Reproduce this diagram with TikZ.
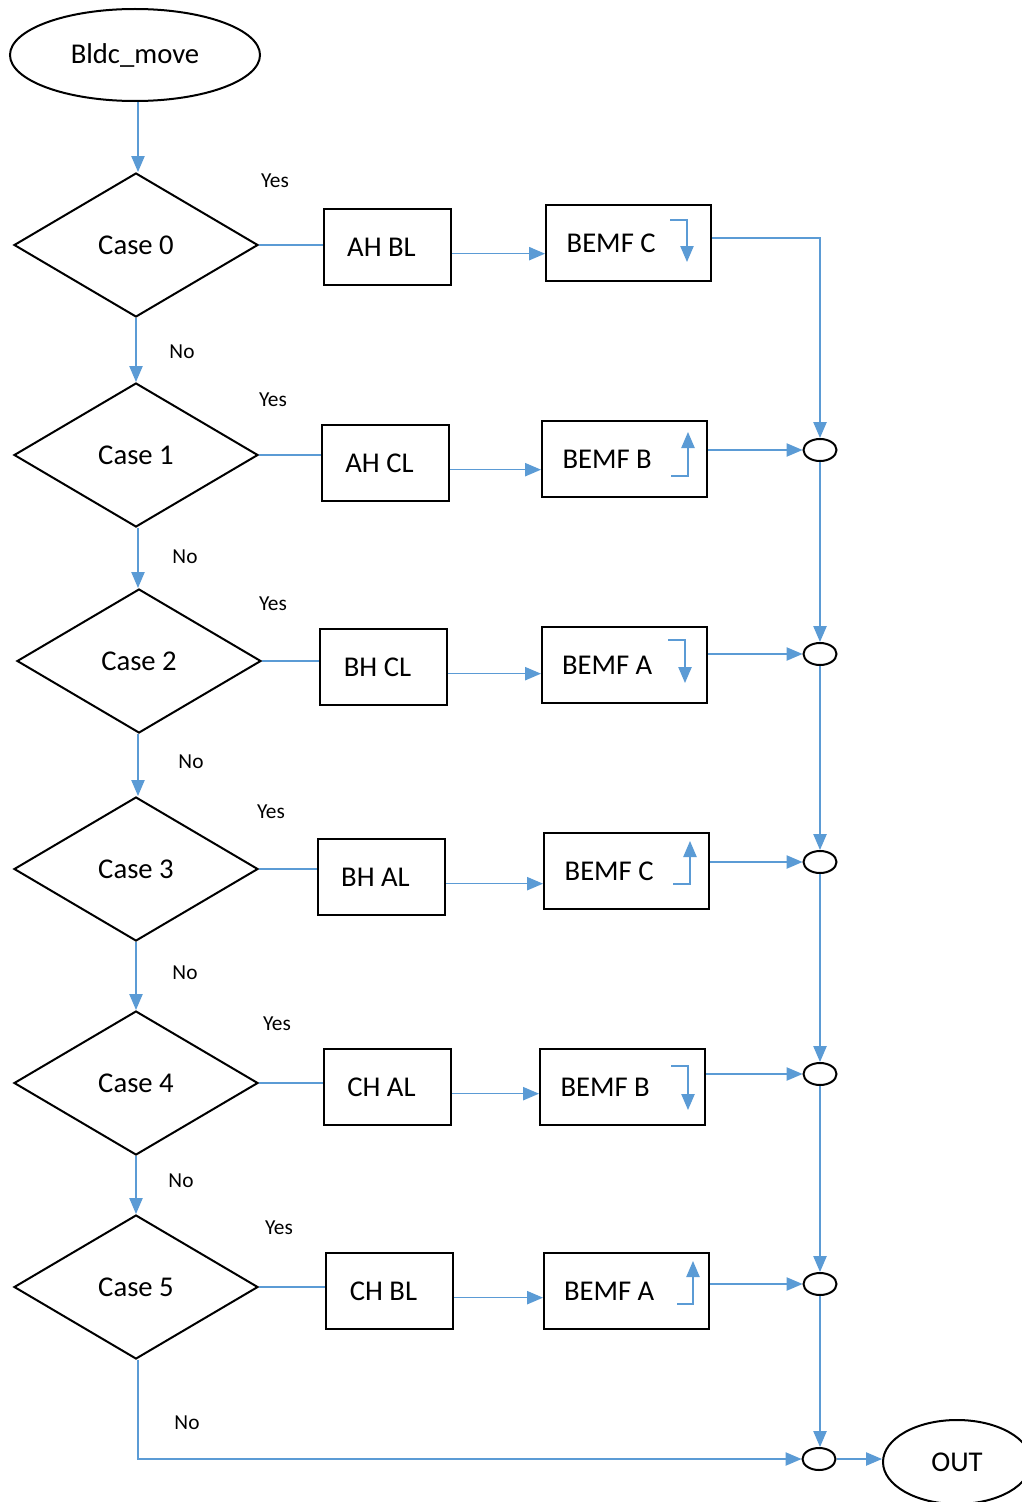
\documentclass[tikz,border=0pt]{standalone}
\usepackage{fontspec}
\setmainfont{Carlito}
\usetikzlibrary{shapes.geometric,arrows.meta}
\definecolor{lineblue}{HTML}{5B9BD5}
\begin{document}
\begin{tikzpicture}[x=0.75pt,y=-0.75pt,
 every node/.style={font=\fontsize{21.5}{24}\selectfont, inner sep=0pt},
 dia/.style={diamond, draw, line width=1.5pt, minimum width=183pt, minimum height=108pt},
 actbox/.style={rectangle, draw, line width=1.5pt, minimum width=95.25pt, minimum height=57pt},
 bemf/.style={rectangle, draw, line width=1.5pt, minimum width=123.75pt, minimum height=57pt},
 jn/.style={ellipse, draw, line width=1.5pt, minimum width=24.75pt, minimum height=16.5pt},
 term/.style={ellipse, draw, line width=1.5pt},
 lbl/.style={font=\fontsize{16}{18}\selectfont},
 conn/.style={draw=lineblue, line width=1pt},
 arr/.style={conn, -{Triangle[length=12pt,width=10pt]}},
]
\useasboundingbox (0,0) rectangle (1021,1502);

% terminals
\node[term, minimum width=187.5pt, minimum height=69pt] (start) at (135,55) {Bldc\_move};
\node[term, minimum width=111pt, minimum height=63pt] (out) at (957,1462) {OUT};

% decisions
\node[dia] (d0) at (136,245) {Case 0};
\node[dia] (d1) at (136,455) {Case 1};
\node[dia] (d2) at (139,661) {Case 2};
\node[dia] (d3) at (136,869) {Case 3};
\node[dia] (d4) at (136,1083) {Case 4};
\node[dia] (d5) at (136,1287) {Case 5};

% action boxes
\node[actbox] (a0) at (387.5,247) {AH BL\hspace*{9pt}};
\node[actbox] (a1) at (385.5,463) {AH CL\hspace*{9pt}};
\node[actbox] (a2) at (383.5,667) {BH CL\hspace*{9pt}};
\node[actbox] (a3) at (381.5,877) {BH AL\hspace*{9pt}};
\node[actbox] (a4) at (387.5,1087) {CH AL\hspace*{9pt}};
\node[actbox] (a5) at (389.5,1291) {CH BL\hspace*{9pt}};

% BEMF boxes
\node[bemf] (b0) at (628.5,243) {BEMF C\hspace*{26pt}};
\node[bemf] (b1) at (624.5,459) {BEMF B\hspace*{26pt}};
\node[bemf] (b2) at (624.5,665) {BEMF A\hspace*{26pt}};
\node[bemf] (b3) at (626.5,871) {BEMF C\hspace*{26pt}};
\node[bemf] (b4) at (622.5,1087) {BEMF B\hspace*{26pt}};
\node[bemf] (b5) at (626.5,1291) {BEMF A\hspace*{26pt}};

% junctions
\node[jn] (c1) at (820,450) {};
\node[jn] (c2) at (820,654) {};
\node[jn] (c3) at (820,862) {};
\node[jn] (c4) at (820,1074) {};
\node[jn] (c5) at (820,1284) {};
\node[jn] (cf) at (819,1459) {};

% labels
\node[lbl] (y0) at (275,181) {Yes};
\node[lbl] (y1) at (273,400) {Yes};
\node[lbl] (y2) at (273,604) {Yes};
\node[lbl] (y3) at (271,812) {Yes};
\node[lbl] (y4) at (277,1024) {Yes};
\node[lbl] (y5) at (279,1228) {Yes};
\node[lbl] (n0) at (182,352) {No};
\node[lbl] (n1) at (185,557) {No};
\node[lbl] (n2) at (191,762) {No};
\node[lbl] (n3) at (185,973) {No};
\node[lbl] (n4) at (181,1181) {No};
\node[lbl] (n5) at (187,1423) {No};

% vertical flow
\draw[arr] (start.south -| 138,0) -- (d0.north -| 138,0);
\draw[arr] (d0.south) -- (d0.south |- d1.north);
\draw[arr] (d1.south -| 138,0) -- (d2.north -| 138,0);
\draw[arr] (d2.south -| 138,0) -- (d3.north -| 138,0);
\draw[arr] (d3.south) -- (d3.south |- d4.north);
\draw[arr] (d4.south) -- (d4.south |- d5.north);
\draw[arr] (d5.south -| 138,0) |- (cf.west);

% yes branches
\foreach \i in {0,...,5}{
  \draw[conn] (d\i.east) -- (d\i.east -| a\i.west);
  \draw[arr] ([yshift=-5pt]a\i.east) -- ([yshift=-5pt]a\i.east -| b\i.west);
}

% outputs to junctions
\draw[arr] ([yshift=3.75pt]b0.east) -| (c1.north);
\draw[arr] (b1.east |- c1.west) -- (c1.west);
\draw[arr] (b2.east |- c2.west) -- (c2.west);
\draw[arr] (b3.east |- c3.west) -- (c3.west);
\draw[arr] (b4.east |- c4.west) -- (c4.west);
\draw[arr] (b5.east |- c5.west) -- (c5.west);

% junction chain
\draw[arr] (c1.south) -- (c2.north);
\draw[arr] (c2.south) -- (c3.north);
\draw[arr] (c3.south) -- (c4.north);
\draw[arr] (c4.south) -- (c5.north);
\draw[arr] (c5.south) -- (c5.south |- cf.north);
\draw[arr] (cf.east) -- (cf.east -| out.west);

% direction glyphs in BEMF boxes
\draw[arr] ([shift={(-42,-23)}]b0.east) -- ++(17,0) -- ++(0,42);
\draw[arr] ([shift={(-37,17)}]b1.east) -- ++(17,0) -- ++(0,-44);
\draw[arr] ([shift={(-40,-25)}]b2.east) -- ++(17,0) -- ++(0,43);
\draw[arr] ([shift={(-37,13)}]b3.east) -- ++(17,0) -- ++(0,-43);
\draw[arr] ([shift={(-35,-21)}]b4.east) -- ++(17,0) -- ++(0,44);
\draw[arr] ([shift={(-33,13)}]b5.east) -- ++(16,0) -- ++(0,-43);
\end{tikzpicture}
\end{document}
